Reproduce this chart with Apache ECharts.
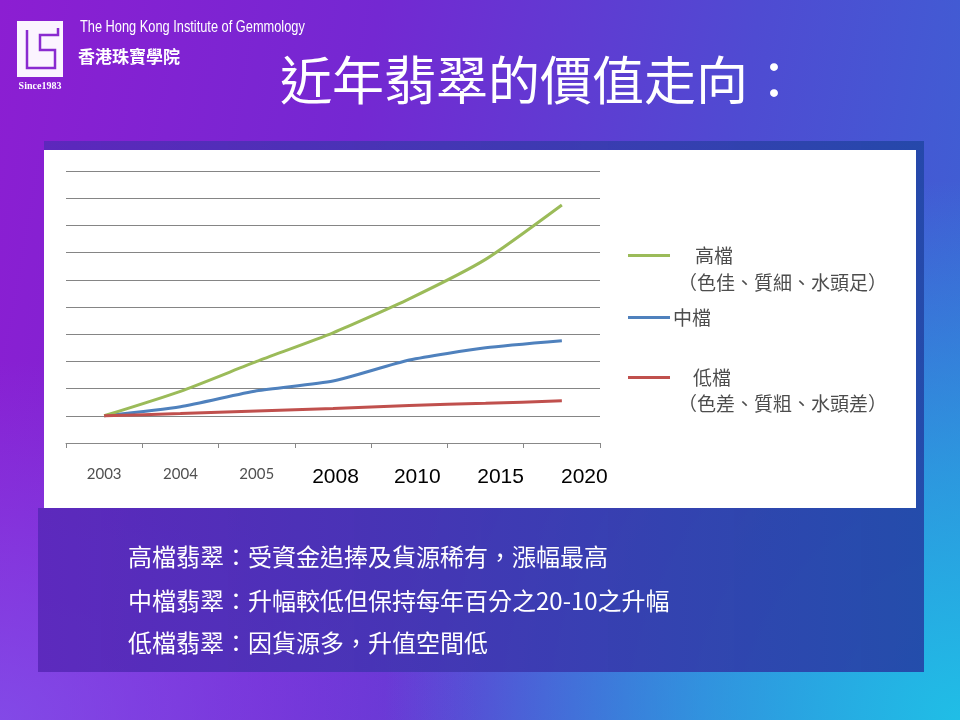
<!DOCTYPE html>
<html>
<head>
<meta charset="utf-8">
<script src="https://cdn.jsdelivr.net/npm/echarts@6/dist/echarts.min.js"></script>
<style>
  html, body { margin: 0; padding: 0; }
  #bg {
    position: absolute; left: 0; top: 0; width: 960px; height: 720px;
    background:
      radial-gradient(ellipse 60% 75% at 100% 100%, rgba(32,190,230,1) 0%, rgba(32,190,230,0.6) 45%, rgba(32,190,230,0) 100%),
      radial-gradient(ellipse 50% 50% at 0% 100%, rgba(130,90,240,0.7) 0%, rgba(130,90,240,0) 100%),
      linear-gradient(100deg, #8c1ed2 0%, #7428d2 35%, #4f4bd2 70%, #3b64d4 100%);
  }
  #chart { position: absolute; left: 0; top: 0; width: 960px; height: 720px; }
</style>
</head>
<body>
<div id="bg"></div>
<div id="chart"></div>
<script>
// ---- data ----
var categories = ['2003', '2004', '2005', '2008', '2010', '2015', '2020'];
var highGrade = [1, 1.9, 3.0, 4.05, 5.3, 6.75, 8.75];
var midGrade  = [1, 1.33, 1.92, 2.28, 3.05, 3.5, 3.76];
var lowGrade  = [1, 1.08, 1.18, 1.27, 1.38, 1.46, 1.55];
var seriesNames = ['高檔', '中檔', '低檔'];
var legendNotes = ['（色佳、質細、水頭足）', '（色差、質粗、水頭差）'];
var titleText = '近年翡翠的價值走向：';
var notes = [
  '高檔翡翠：受資金追捧及貨源稀有，漲幅最高',
  '中檔翡翠：升幅較低但保持每年百分之20-10之升幅',
  '低檔翡翠：因貨源多，升值空間低'
];

var CJK = '"Noto Sans CJK TC", "Noto Sans CJK SC", sans-serif';
var colors = ['#9BBB59', '#4F81BD', '#C0504D'];

var chart = echarts.init(document.getElementById('chart'), null, { renderer: 'canvas' });

var logoStroke = '#8a2ad0';
var noteShadow = { shadowColor: 'rgba(0,0,0,0.35)', shadowBlur: 2, shadowOffsetY: 1 };

var option = {
  backgroundColor: 'transparent',
  animation: false,
  grid: { left: 66, right: 360, top: 171, bottom: 277, containLabel: false },
  xAxis: {
    type: 'category',
    data: categories,
    boundaryGap: true,
    axisLine: { lineStyle: { color: '#888', width: 1 } },
    axisTick: { show: true, length: 5, lineStyle: { color: '#888' } },
    axisLabel: {
      margin: 24,
      formatter: function (v, i) { return i < 3 ? '{s|' + v + '}' : '{b' + i + '|' + v + '}'; },
      rich: {
        s: { fontSize: 15, color: '#505050', fontFamily: 'Lato, "Open Sans", sans-serif' },
        b3: { fontSize: 21, color: '#000', fontFamily: '"Liberation Sans", Arial, sans-serif', padding: [0, 0, 0, 5] },
        b4: { fontSize: 21, color: '#000', fontFamily: '"Liberation Sans", Arial, sans-serif', padding: [0, 0, 0, 16] },
        b5: { fontSize: 21, color: '#000', fontFamily: '"Liberation Sans", Arial, sans-serif', padding: [0, 0, 0, 30] },
        b6: { fontSize: 21, color: '#000', fontFamily: '"Liberation Sans", Arial, sans-serif', padding: [0, 0, 0, 45] }
      }
    }
  },
  yAxis: {
    type: 'value',
    min: 0, max: 10, interval: 1,
    axisLine: { show: false },
    axisTick: { show: false },
    axisLabel: { show: false },
    splitLine: { show: true, lineStyle: { color: '#858585', width: 1 } }
  },
  legend: [
    { data: [seriesNames[0]], orient: 'vertical', left: 628, top: 246, padding: 0,
      icon: 'rect', itemWidth: 42, itemHeight: 3,
      textStyle: { fontSize: 19, color: '#4d4d4d', fontFamily: CJK, padding: [0, 0, 0, 20] } },
    { data: [seriesNames[1]], orient: 'vertical', left: 628, top: 308, padding: 0,
      icon: 'rect', itemWidth: 42, itemHeight: 3, itemGap: 0,
      textStyle: { fontSize: 19, color: '#4d4d4d', fontFamily: CJK, padding: [0, 0, 0, -2] } },
    { data: [seriesNames[2]], orient: 'vertical', left: 628, top: 368, padding: 0,
      icon: 'rect', itemWidth: 42, itemHeight: 3,
      textStyle: { fontSize: 19, color: '#4d4d4d', fontFamily: CJK, padding: [0, 0, 0, 18] } }
  ],
  series: [
    { name: seriesNames[0], type: 'line', data: highGrade, symbol: 'none', smooth: 0.2,
      lineStyle: { color: colors[0], width: 3 }, itemStyle: { color: colors[0] }, z: 4 },
    { name: seriesNames[1], type: 'line', data: midGrade, symbol: 'none', smooth: 0.2,
      lineStyle: { color: colors[1], width: 3 }, itemStyle: { color: colors[1] }, z: 3 },
    { name: seriesNames[2], type: 'line', data: lowGrade, symbol: 'none', smooth: 0.2,
      lineStyle: { color: colors[2], width: 3 }, itemStyle: { color: colors[2] }, z: 5 }
  ],
  graphic: [
    // dark panel
    { type: 'polygon', z: -20, silent: true,
      shape: { points: [[44, 141], [924, 141], [924, 672], [38, 672], [38, 508], [44, 508]] },
      style: { fill: new echarts.graphic.LinearGradient(0, 0, 1, 0, [
        { offset: 0, color: 'rgba(90,40,186,0.92)' },
        { offset: 1, color: 'rgba(36,72,168,0.95)' }
      ]) } },
    // white chart box
    { type: 'rect', z: -19, silent: true, shape: { x: 44, y: 150, width: 872, height: 358 },
      style: { fill: '#ffffff' } },
    // title
    { type: 'text', z: 10, x: 540, y: 80, style: {
        text: titleText, fill: '#ffffff', font: '52px ' + CJK,
        textAlign: 'center', textVerticalAlign: 'middle',
        shadowColor: 'rgba(0,0,0,0.45)', shadowBlur: 3, shadowOffsetX: 1, shadowOffsetY: 2
      } },
    // legend notes
    { type: 'text', z: 10, style: { x: 678, y: 283, text: legendNotes[0], fill: '#4d4d4d',
        font: '19px ' + CJK, textVerticalAlign: 'middle' } },
    { type: 'text', z: 10, style: { x: 678, y: 404, text: legendNotes[1], fill: '#4d4d4d',
        font: '19px ' + CJK, textVerticalAlign: 'middle' } },
    // bottom notes
    { type: 'text', z: 10, style: Object.assign({ x: 128, y: 557, text: notes[0], fill: '#ffffff',
        font: '24px ' + CJK, textVerticalAlign: 'middle' }, noteShadow) },
    { type: 'text', z: 10, style: Object.assign({ x: 128, y: 601, text: notes[1], fill: '#ffffff',
        font: '24px ' + CJK, textVerticalAlign: 'middle' }, noteShadow) },
    { type: 'text', z: 10, style: Object.assign({ x: 128, y: 643, text: notes[2], fill: '#ffffff',
        font: '24px ' + CJK, textVerticalAlign: 'middle' }, noteShadow) },
    // logo
    { type: 'rect', z: 10, shape: { x: 17, y: 21, width: 46, height: 56 }, style: { fill: '#fbf4ff' } },
    { type: 'polyline', z: 11, shape: { points: [[27, 30], [27, 68], [55, 68], [55, 50], [40, 50], [40, 35], [58, 35], [58, 28]] },
      style: { stroke: logoStroke, lineWidth: 2.5, fill: null } },
    { type: 'text', z: 10, style: { x: 40, y: 86, text: 'Since1983', fill: '#ffffff',
        font: 'bold 10px "Liberation Serif", serif', textAlign: 'center', textVerticalAlign: 'middle' } },
    { type: 'text', z: 10, x: 80, y: 28, scaleX: 0.8, style: { x: 0, y: 0,
        text: 'The Hong Kong Institute of Gemmology', fill: '#ffffff',
        font: '16px "Liberation Sans", sans-serif', textVerticalAlign: 'middle' } },
    { type: 'text', z: 10, style: { x: 78, y: 57, text: '香港珠寶學院', fill: '#ffffff',
        font: 'bold 17px ' + CJK, textVerticalAlign: 'middle' } }
  ]
};
chart.setOption(option);
</script>
</body>
</html>
